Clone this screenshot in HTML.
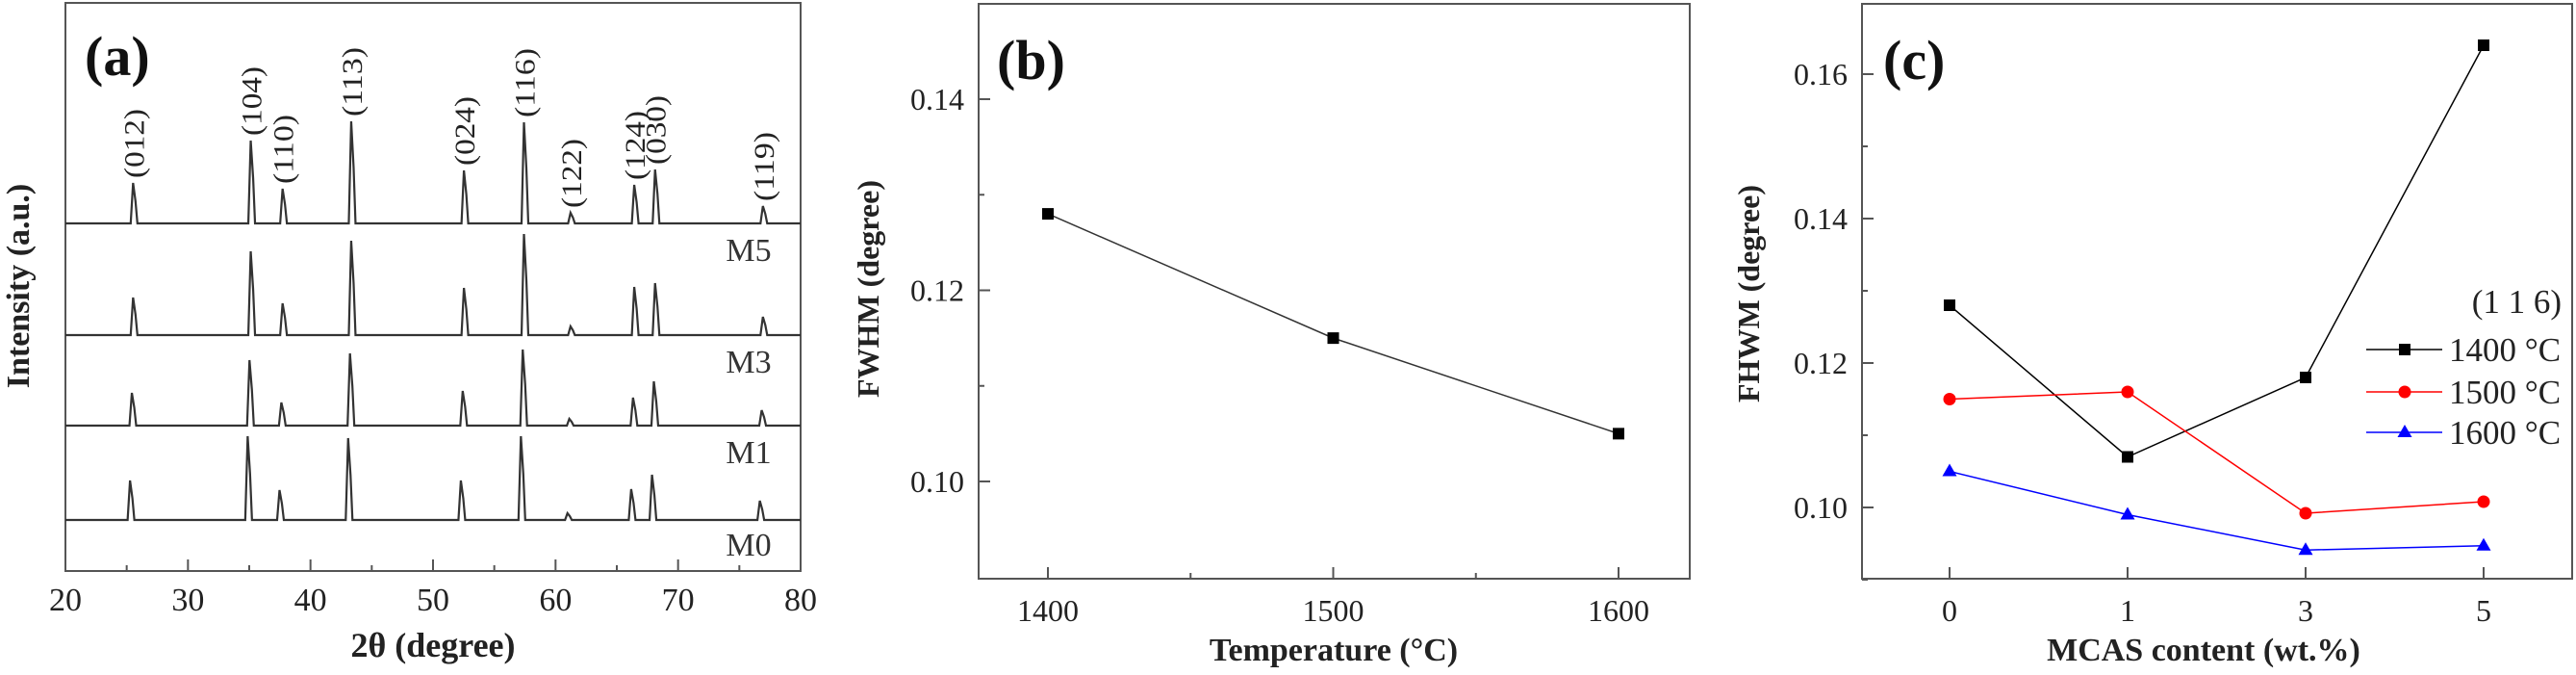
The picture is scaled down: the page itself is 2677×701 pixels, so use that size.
<!DOCTYPE html>
<html><head><meta charset="utf-8"><style>
html,body{margin:0;padding:0;background:#fff;}
svg{display:block;font-family:"Liberation Serif",serif;}
</style></head><body>
<svg id="fig" width="2677" height="701" viewBox="0 0 2677 701" xmlns="http://www.w3.org/2000/svg">
<g id="pa"></g>
<g id="pb"></g>
<g id="pc"></g>
</svg>
<script>
// ---- Panel (a) data ----
const peakPos = [25.6, 35.2, 37.8, 43.4, 52.6, 57.5, 61.3, 66.5, 68.2, 77.0];
const peakLabels = ["(012)","(104)","(110)","(113)","(024)","(116)","(122)","(124)","(030)","(119)"];
const tracesNames = ["M5","M3","M1","M0"];
const peaksM5 = [42, 86, 36, 106, 55, 105, 11, 40, 56, 18];
const peaksM3 = [39, 87, 33, 98, 49, 105, 9, 50, 54, 19];
const peaksM1 = [34, 68, 24, 75, 36, 79, 7, 29, 46, 16];
const peaksM0 = [41, 87, 31, 85, 41, 87, 7, 32, 47, 20];
const xTicksA = [20, 30, 40, 50, 60, 70, 80];
// ---- Panel (b) data ----
const tempB = [1400, 1500, 1600];
const fwhmB = [0.128, 0.115, 0.105];
const yTicksB = [0.10, 0.12, 0.14];
// ---- Panel (c) data ----
const mcasC = ["0", "1", "3", "5"];
const series1400 = [0.128, 0.107, 0.118, 0.164];
const series1500 = [0.115, 0.116, 0.0992, 0.1008];
const series1600 = [0.105, 0.099, 0.0941, 0.0947];
const seriesNames = ["1400 \u00B0C", "1500 \u00B0C", "1600 \u00B0C"];
const yTicksC = [0.10, 0.12, 0.14, 0.16];

const NS = "http://www.w3.org/2000/svg";
function mk(parent, tag, attrs, text){
  const e = document.createElementNS(NS, tag);
  for (const k in attrs) e.setAttribute(k, attrs[k]);
  if (text !== undefined) e.textContent = text;
  parent.appendChild(e);
  return e;
}
const AX = "#555";

// ================= Panel A =================
(function(){
  const g = document.getElementById('pa');
  const L=68, R=832, T=3, B=593;
  const xs = v => L + (v-20)/60*(R-L);
  const frame = mk(g,'rect',{x:L,y:T,width:R-L,height:B-T,fill:'none',stroke:AX,'stroke-width':2});
  
  
  const baselines = [232, 348, 442, 540];
  const all = [peaksM5, peaksM3, peaksM1, peaksM0];
  const labY = [259, 375, 469, 565];
  all.forEach((pk, i) => {
    const base = baselines[i];
    const shift = i===3 ? -0.25 : (i===2 ? -0.1 : 0);
    let d = `M${L} ${base}`;
    peakPos.forEach((p, j) => {
      const x = xs(p + shift);
      d += ` L${x-3.5} ${base} L${x-1} ${base-pk[j]} L${x+1.5} ${base-pk[j]*0.55} L${x+3.5} ${base}`;
    });
    d += ` L${R} ${base}`;
    const path = mk(g,'path',{d:d,fill:'none',stroke:'#333','stroke-width':2.2});
    
    
    const t = mk(g,'text',{x:778,y:labY[i]+12,'text-anchor':'middle','font-size':34,fill:'#333'}, tracesNames[i]);
    
    
  });
  peakPos.forEach((p, j) => {
    const x = xs(p);
    const yb = 232 - peaksM5[j] - 5;
    const t = mk(g,'text',{x:0,y:0,'font-size':30,fill:'#222',transform:`translate(${x+10},${yb}) rotate(-90)`,textLength:72,lengthAdjust:'spacingAndGlyphs'}, peakLabels[j]);
    
    
  });
  for (let v=20; v<=80; v+=5){
    const major = v%10===0;
    const tk = mk(g,'line',{x1:xs(v),x2:xs(v),y1:B,y2:B-(major?12:6),stroke:AX,'stroke-width':2});
    
    
  }
  xTicksA.forEach(v => {
    const t = mk(g,'text',{x:xs(v),y:634,'text-anchor':'middle','font-size':34,fill:'#222'}, String(v));
    
    
  });
  const xt = mk(g,'text',{x:450,y:682,'text-anchor':'middle','font-size':36,'font-weight':'bold',fill:'#222'}, "2\u03B8 (degree)");
  
  
  const yt = mk(g,'text',{x:0,y:0,'text-anchor':'middle','font-size':34,'font-weight':'bold',fill:'#222',transform:'translate(30,297) rotate(-90)'}, "Intensity (a.u.)");
  
  
  const pl = mk(g,'text',{x:88,y:78,'font-size':58,'font-weight':'bold',fill:'#111'}, "(a)");
  
  
})();

// ================= Panel B =================
(function(){
  const g = document.getElementById('pb');
  const L=1017, R=1756, T=4, B=601;
  const xs = v => 1089 + (v-1400)/200*(1682-1089);
  const ys = v => 500 - (v-0.10)/0.04*(500-103);
  const frame = mk(g,'rect',{x:L,y:T,width:R-L,height:B-T,fill:'none',stroke:AX,'stroke-width':2});
  
  
  for (let v=1400; v<=1600; v+=50){
    const major = v%100===0;
    const tk = mk(g,'line',{x1:xs(v),x2:xs(v),y1:B,y2:B-(major?12:6),stroke:AX,'stroke-width':2});
    
    
  }
  tempB.forEach(v => {
    const t = mk(g,'text',{x:xs(v),y:645,'text-anchor':'middle','font-size':32,fill:'#222'}, String(v));
    
    
  });
  for (let k=0;k<=4;k++){
    const v = 0.10 + k*0.01;
    const major = k%2===0;
    const tk = mk(g,'line',{x1:L,x2:L+(major?12:6),y1:ys(v),y2:ys(v),stroke:AX,'stroke-width':2});
    
    
  }
  yTicksB.forEach(v => {
    const t = mk(g,'text',{x:1002,y:ys(v)+11,'text-anchor':'end','font-size':32,fill:'#222'}, v.toFixed(2));
    
    
  });
  const line = mk(g,'polyline',{points:tempB.map((v,i)=>xs(v)+','+ys(fwhmB[i])).join(' '),fill:'none',stroke:'#333','stroke-width':1.5});
  
  
  tempB.forEach((v,i) => {
    const m = mk(g,'rect',{x:xs(v)-6,y:ys(fwhmB[i])-6,width:12,height:12,fill:'#000'});
    
    
  });
  const xt = mk(g,'text',{x:1386,y:686,'text-anchor':'middle','font-size':34,'font-weight':'bold',fill:'#222'}, "Temperature (\u00B0C)");
  
  
  const yt = mk(g,'text',{x:0,y:0,'text-anchor':'middle','font-size':32,'font-weight':'bold',fill:'#222',transform:'translate(913,300) rotate(-90)'}, "FWHM (degree)");
  
  
  const pl = mk(g,'text',{x:1036,y:82,'font-size':58,'font-weight':'bold',fill:'#111'}, "(b)");
  
  
})();

// ================= Panel C =================
(function(){
  const g = document.getElementById('pc');
  const L=1935, R=2673, T=4, B=601;
  const xs = i => 2026 + i*185;
  const ys = v => 527 - (v-0.10)/0.06*(527-77);
  const frame = mk(g,'rect',{x:L,y:T,width:R-L,height:B-T,fill:'none',stroke:AX,'stroke-width':2});
  
  
  mcasC.forEach((c,i) => {
    const tk = mk(g,'line',{x1:xs(i),x2:xs(i),y1:B,y2:B-12,stroke:AX,'stroke-width':2});
    
    
    const t = mk(g,'text',{x:xs(i),y:645,'text-anchor':'middle','font-size':32,fill:'#222'}, c);
    
    
  });
  for (let k=0;k<=7;k++){
    const v = 0.09 + k*0.01;
    const major = k%2===1;
    const tk = mk(g,'line',{x1:L,x2:L+(major?12:6),y1:ys(v),y2:ys(v),stroke:AX,'stroke-width':2});
    
    
  }
  yTicksC.forEach(v => {
    const t = mk(g,'text',{x:1920,y:ys(v)+11,'text-anchor':'end','font-size':32,fill:'#222'}, v.toFixed(2));
    
    
  });
  const colors = ['#000','#f00','#00f'];
  const data = [series1400, series1500, series1600];
  function marker(k, x, y){
    let m;
    if (k===0) m = mk(g,'rect',{x:x-6,y:y-6,width:12,height:12,fill:colors[0]});
    else if (k===1) m = mk(g,'circle',{cx:x,cy:y,r:6.5,fill:colors[1]});
    else m = mk(g,'polygon',{points:`${x},${y-8} ${x-7.5},${y+5} ${x+7.5},${y+5}`,fill:colors[2]});
    return m;
  }
  data.forEach((s,k) => {
    const pl = mk(g,'polyline',{points:s.map((v,i)=>xs(i)+','+ys(v)).join(' '),fill:'none',stroke:colors[k],'stroke-width':1.5});
    
    
    s.forEach((v,i) => {
      const m = marker(k, xs(i), ys(v));
      
      
    });
  });
  const lt = mk(g,'text',{x:2662,y:325,'text-anchor':'end','font-size':35,fill:'#222'}, "(1 1 6)");
  
  
  const ly = [363, 407, 449];
  seriesNames.forEach((n,k) => {
    const ln = mk(g,'line',{x1:2459,x2:2538,y1:ly[k],y2:ly[k],stroke:colors[k],'stroke-width':1.5});
    
    
    const m = marker(k, 2499, ly[k]);
    
    
    const t = mk(g,'text',{x:2545,y:ly[k]+12,'font-size':35,fill:'#222'}, n);
    
    
  });
  const xt = mk(g,'text',{x:2290,y:686,'text-anchor':'middle','font-size':34,'font-weight':'bold',fill:'#222'}, "MCAS content (wt.%)");
  
  
  const yt = mk(g,'text',{x:0,y:0,'text-anchor':'middle','font-size':32,'font-weight':'bold',fill:'#222',transform:'translate(1828,305) rotate(-90)'}, "FHWM (degree)");
  
  
  const pl = mk(g,'text',{x:1957,y:82,'font-size':58,'font-weight':'bold',fill:'#111'}, "(c)");
  
  
})();
</script>
</body></html>
